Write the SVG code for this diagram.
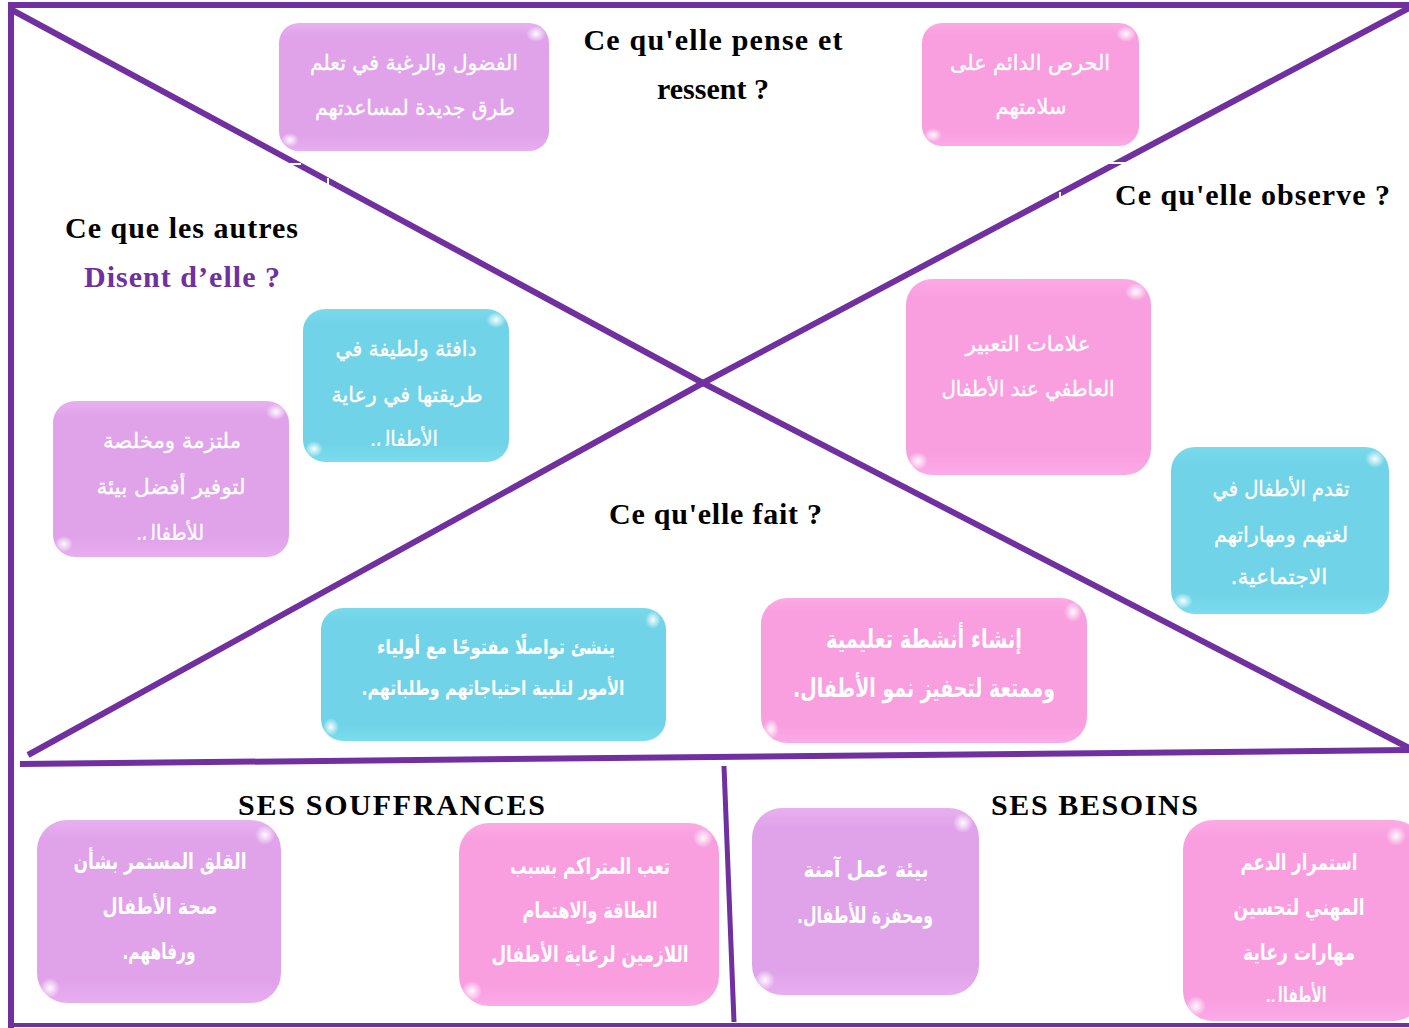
<svg xmlns="http://www.w3.org/2000/svg" width="1409" height="1028" viewBox="0 0 1409 1028">
<style>
.ln{stroke:#7030A0;fill:none;stroke-linecap:butt;stroke-linejoin:miter}
.ttl{font-family:"Liberation Serif","DejaVu Serif",serif;font-weight:bold;font-size:30px;fill:#000}
.ar{font-family:"DejaVu Sans","Noto Sans",sans-serif;font-size:21px;fill:#fff;stroke:#fff;stroke-width:0.35;text-anchor:middle}
.arb{font-family:"DejaVu Sans","Noto Sans",sans-serif;font-size:22px;font-weight:bold;fill:#fff;text-anchor:middle}
.gap{stroke:#fff;stroke-width:2}
</style>
<defs>
<linearGradient id="gV" x1="0" y1="0" x2="0" y2="1">
<stop offset="0" stop-color="#E8B0F0"/><stop offset="0.1" stop-color="#E0A3EA"/><stop offset="0.88" stop-color="#E0A3EA"/><stop offset="1" stop-color="#E8AEF0"/>
</linearGradient>
<linearGradient id="gP" x1="0" y1="0" x2="0" y2="1">
<stop offset="0" stop-color="#FBAAE5"/><stop offset="0.1" stop-color="#F99EDF"/><stop offset="0.88" stop-color="#F99EDF"/><stop offset="1" stop-color="#FBAAE8"/>
</linearGradient>
<linearGradient id="gC" x1="0" y1="0" x2="0" y2="1">
<stop offset="0" stop-color="#7ADAEC"/><stop offset="0.1" stop-color="#70D3E7"/><stop offset="0.88" stop-color="#70D3E7"/><stop offset="1" stop-color="#7ADCEE"/>
</linearGradient>
<radialGradient id="hl">
<stop offset="0" stop-color="#fff" stop-opacity="0.95"/><stop offset="1" stop-color="#fff" stop-opacity="0"/>
</radialGradient>
<clipPath id="c3"><rect x="303" y="309" width="206" height="137"/></clipPath>
<clipPath id="c4"><rect x="53" y="401" width="236" height="139"/></clipPath>
<clipPath id="c12"><rect x="1183" y="820" width="226" height="182"/></clipPath>
</defs>

<g id="connectors">
<line class="ln" x1="8" y1="5" x2="1409" y2="5" stroke-width="6"/>
<line class="ln" x1="11" y1="3" x2="11" y2="1028" stroke-width="6"/>
<line class="ln" x1="8" y1="1025" x2="1409" y2="1025" stroke-width="4"/>
<polyline class="ln" points="12,10 703,383 1409,748" stroke-width="6"/>
<polyline class="ln" points="1409,8 703,383 28,755" stroke-width="6"/>
<line class="ln" x1="20" y1="764" x2="1409" y2="750" stroke-width="6"/>
<line class="ln" x1="724" y1="766" x2="734" y2="1022" stroke-width="5"/>
<line class="gap" x1="287" y1="164" x2="301" y2="164"/>
<line class="gap" x1="328" y1="178" x2="328" y2="191"/>
<line class="gap" x1="1108" y1="163" x2="1132" y2="163"/>
<line class="gap" x1="1060" y1="192" x2="1060" y2="201"/>
</g>

<g id="titles">
<text class="ttl" x="713" y="50" text-anchor="middle" textLength="259">Ce qu'elle pense et</text>
<text class="ttl" x="713" y="99" text-anchor="middle">ressent ?</text>
<text class="ttl" x="1115" y="205" textLength="275">Ce qu'elle observe ?</text>
<text class="ttl" x="65" y="238" textLength="233">Ce que les autres</text>
<text class="ttl" x="84" y="287" textLength="196" style="fill:#7030A0">Disent d’elle ?</text>
<text class="ttl" x="609" y="524" textLength="213">Ce qu'elle fait ?</text>
<text class="ttl" x="238" y="815" textLength="307">SES SOUFFRANCES</text>
<text class="ttl" x="991" y="815" textLength="207">SES BESOINS</text>
</g>

<g id="n1">
<rect x="279" y="23" width="270" height="128" rx="20" fill="url(#gV)"/>
<ellipse cx="536" cy="34" rx="10" ry="8" fill="url(#hl)"/><ellipse cx="290" cy="140" rx="9" ry="7" fill="url(#hl)"/>
<text class="ar" direction="rtl" x="414" y="70" textLength="208" lengthAdjust="spacingAndGlyphs">الفضول والرغبة في تعلم</text>
<text class="ar" direction="rtl" x="415" y="115" textLength="200" lengthAdjust="spacingAndGlyphs">طرق جديدة لمساعدتهم</text>
</g>
<g id="n2">
<rect x="922" y="23" width="217" height="123" rx="20" fill="url(#gP)"/>
<ellipse cx="1126" cy="34" rx="10" ry="8" fill="url(#hl)"/><ellipse cx="933" cy="135" rx="9" ry="7" fill="url(#hl)"/>
<text class="ar" direction="rtl" x="1030" y="70" textLength="160" lengthAdjust="spacingAndGlyphs">الحرص الدائم على</text>
<text class="ar" direction="rtl" x="1031" y="114" textLength="71" lengthAdjust="spacingAndGlyphs">سلامتهم</text>
</g>
<g id="n3">
<rect x="303" y="309" width="206" height="153" rx="22" fill="url(#gC)"/>
<ellipse cx="496" cy="320" rx="10" ry="8" fill="url(#hl)"/><ellipse cx="314" cy="449" rx="9" ry="8" fill="url(#hl)"/>
<g clip-path="url(#c3)">
<text class="ar" direction="rtl" x="406" y="356" textLength="141" lengthAdjust="spacingAndGlyphs">دافئة ولطيفة في</text>
<text class="ar" direction="rtl" x="407" y="402" textLength="151" lengthAdjust="spacingAndGlyphs">طريقتها في رعاية</text>
<text class="ar" direction="rtl" x="404" y="446" textLength="68" lengthAdjust="spacingAndGlyphs">الأطفال.</text>
</g>
</g>
<g id="n4">
<rect x="53" y="401" width="236" height="156" rx="22" fill="url(#gV)"/>
<ellipse cx="276" cy="412" rx="10" ry="8" fill="url(#hl)"/><ellipse cx="64" cy="544" rx="9" ry="8" fill="url(#hl)"/>
<g clip-path="url(#c4)">
<text class="ar" direction="rtl" x="172" y="448" textLength="138" lengthAdjust="spacingAndGlyphs">ملتزمة ومخلصة</text>
<text class="ar" direction="rtl" x="171" y="494" textLength="149" lengthAdjust="spacingAndGlyphs">لتوفير أفضل بيئة</text>
<text class="ar" direction="rtl" x="170" y="540" textLength="68" lengthAdjust="spacingAndGlyphs">للأطفال.</text>
</g>
</g>
<g id="n5">
<rect x="906" y="279" width="245" height="196" rx="26" fill="url(#gP)"/>
<ellipse cx="1136" cy="292" rx="11" ry="9" fill="url(#hl)"/><ellipse cx="918" cy="461" rx="10" ry="9" fill="url(#hl)"/>
<text class="ar" direction="rtl" x="1028" y="351" textLength="125" lengthAdjust="spacingAndGlyphs">علامات التعبير</text>
<text class="ar" direction="rtl" x="1028" y="396" textLength="173" lengthAdjust="spacingAndGlyphs">العاطفي عند الأطفال</text>
</g>
<g id="n6">
<rect x="1171" y="447" width="218" height="167" rx="24" fill="url(#gC)"/>
<ellipse cx="1375" cy="459" rx="10" ry="9" fill="url(#hl)"/><ellipse cx="1183" cy="601" rx="10" ry="8" fill="url(#hl)"/>
<text class="ar" direction="rtl" x="1281" y="496" textLength="137" lengthAdjust="spacingAndGlyphs">تقدم الأطفال في</text>
<text class="ar" direction="rtl" x="1281" y="542" textLength="134" lengthAdjust="spacingAndGlyphs">لغتهم ومهاراتهم</text>
<text class="ar" direction="rtl" x="1279" y="584" textLength="97" lengthAdjust="spacingAndGlyphs">الاجتماعية.</text>
</g>
<g id="n7">
<rect x="321" y="608" width="345" height="133" rx="22" fill="url(#gC)"/>
<ellipse cx="653" cy="620" rx="8" ry="9" fill="url(#hl)"/><ellipse cx="331" cy="727" rx="8" ry="9" fill="url(#hl)"/>
<text class="arb" direction="rtl" x="496" y="654" style="font-size:20px" textLength="238" lengthAdjust="spacingAndGlyphs">ينشئ تواصلًا مفتوحًا مع أولياء</text>
<text class="arb" direction="rtl" x="493" y="695" style="font-size:20px" textLength="263" lengthAdjust="spacingAndGlyphs">الأمور لتلبية احتياجاتهم وطلباتهم.</text>
</g>
<g id="n8">
<rect x="761" y="598" width="326" height="145" rx="26" fill="url(#gP)"/>
<ellipse cx="1073" cy="612" rx="9" ry="10" fill="url(#hl)"/><ellipse cx="771" cy="729" rx="8" ry="10" fill="url(#hl)"/>
<text class="arb" direction="rtl" x="924" y="648" style="font-size:26px" textLength="196" lengthAdjust="spacingAndGlyphs">إنشاء أنشطة تعليمية</text>
<text class="arb" direction="rtl" x="924" y="697" style="font-size:26px" textLength="262" lengthAdjust="spacingAndGlyphs">وممتعة لتحفيز نمو الأطفال.</text>
</g>
<g id="n9">
<rect x="37" y="820" width="244" height="183" rx="30" fill="url(#gV)"/>
<ellipse cx="265" cy="835" rx="10" ry="10" fill="url(#hl)"/><ellipse cx="50" cy="988" rx="10" ry="10" fill="url(#hl)"/>
<text class="arb" direction="rtl" x="160" y="869" textLength="173" lengthAdjust="spacingAndGlyphs">القلق المستمر بشأن</text>
<text class="arb" direction="rtl" x="160" y="914" textLength="115" lengthAdjust="spacingAndGlyphs">صحة الأطفال</text>
<text class="arb" direction="rtl" x="159" y="959" textLength="73" lengthAdjust="spacingAndGlyphs">ورفاههم.</text>
</g>
<g id="n10">
<rect x="459" y="823" width="260" height="183" rx="30" fill="url(#gP)"/>
<ellipse cx="703" cy="838" rx="10" ry="10" fill="url(#hl)"/><ellipse cx="472" cy="991" rx="10" ry="10" fill="url(#hl)"/>
<text class="arb" direction="rtl" x="590" y="874" textLength="160" lengthAdjust="spacingAndGlyphs">تعب المتراكم بسبب</text>
<text class="arb" direction="rtl" x="590" y="918" textLength="135" lengthAdjust="spacingAndGlyphs">الطاقة والاهتمام</text>
<text class="arb" direction="rtl" x="590" y="962" textLength="197" lengthAdjust="spacingAndGlyphs">اللازمين لرعاية الأطفال</text>
</g>
<g id="n11">
<rect x="752" y="808" width="227" height="187" rx="30" fill="url(#gV)"/>
<ellipse cx="963" cy="823" rx="10" ry="10" fill="url(#hl)"/><ellipse cx="765" cy="980" rx="10" ry="10" fill="url(#hl)"/>
<text class="arb" direction="rtl" x="866" y="877" textLength="125" lengthAdjust="spacingAndGlyphs">بيئة عمل آمنة</text>
<text class="arb" direction="rtl" x="865" y="923" textLength="136" lengthAdjust="spacingAndGlyphs">ومحفزة للأطفال.</text>
</g>
<g id="n12">
<rect x="1183" y="820" width="240" height="201" rx="30" fill="url(#gP)"/>
<ellipse cx="1396" cy="836" rx="10" ry="10" fill="url(#hl)"/><ellipse cx="1196" cy="1006" rx="10" ry="10" fill="url(#hl)"/>
<g clip-path="url(#c12)">
<text class="arb" direction="rtl" x="1299" y="870" textLength="117" lengthAdjust="spacingAndGlyphs">استمرار الدعم</text>
<text class="arb" direction="rtl" x="1299" y="915" textLength="131" lengthAdjust="spacingAndGlyphs">المهني لتحسين</text>
<text class="arb" direction="rtl" x="1299" y="960" textLength="112" lengthAdjust="spacingAndGlyphs">مهارات رعاية</text>
<text class="arb" direction="rtl" x="1296" y="1003" textLength="61" lengthAdjust="spacingAndGlyphs">الأطفال.</text>
</g>
</g>
</svg>
